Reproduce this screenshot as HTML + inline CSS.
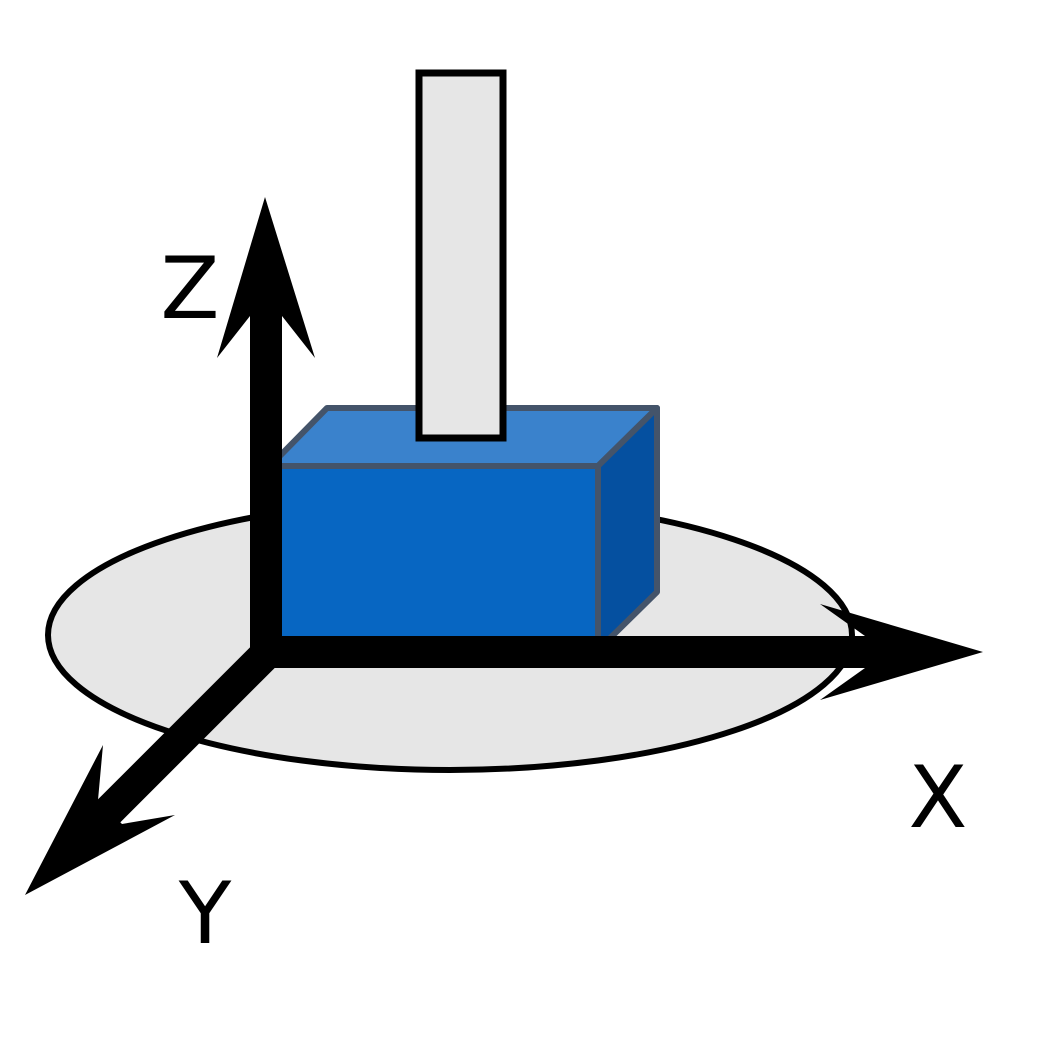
<!DOCTYPE html>
<html><head><style>body{margin:0;background:#fff}svg{display:block}</style></head><body>
<svg width="1056" height="1048" viewBox="0 0 1056 1048" xmlns="http://www.w3.org/2000/svg">
<ellipse cx="450" cy="635" rx="402" ry="135" fill="#e6e6e6" stroke="#000" stroke-width="6"/>
<polygon points="270,466 327,408 657,408 598,466" fill="#3a82cc" stroke="#44546a" stroke-width="6" stroke-linejoin="round"/>
<polygon points="598,466 657,408 657,592 598,650" fill="#0550a0" stroke="#44546a" stroke-width="6" stroke-linejoin="round"/>
<rect x="270" y="466" width="328" height="184" fill="#0766c2" stroke="#44546a" stroke-width="6"/>
<rect x="419" y="73" width="84" height="365" fill="#e6e6e6" stroke="#000" stroke-width="7"/>
<rect x="250" y="300" width="32" height="368" fill="#000"/>
<polygon points="265,197 315,358 282,316 250,316 217,358" fill="#000"/>
<rect x="250" y="636" width="620" height="32" fill="#000"/>
<polygon points="983,652 820,700 865,668 865,636 820,604" fill="#000"/>
<line x1="268" y1="652" x2="100" y2="820" stroke="#000" stroke-width="32"/>
<polygon points="25,895 103,745 98,800 122,824 175,815" fill="#000"/>
<text x="190" y="318" font-family="DejaVu Sans, sans-serif" font-size="86" text-anchor="middle">Z</text>
<text x="938" y="827" font-family="DejaVu Sans, sans-serif" font-size="86" text-anchor="middle">X</text>
<text x="205" y="943" font-family="DejaVu Sans, sans-serif" font-size="86" text-anchor="middle">Y</text>
</svg>
</body></html>
